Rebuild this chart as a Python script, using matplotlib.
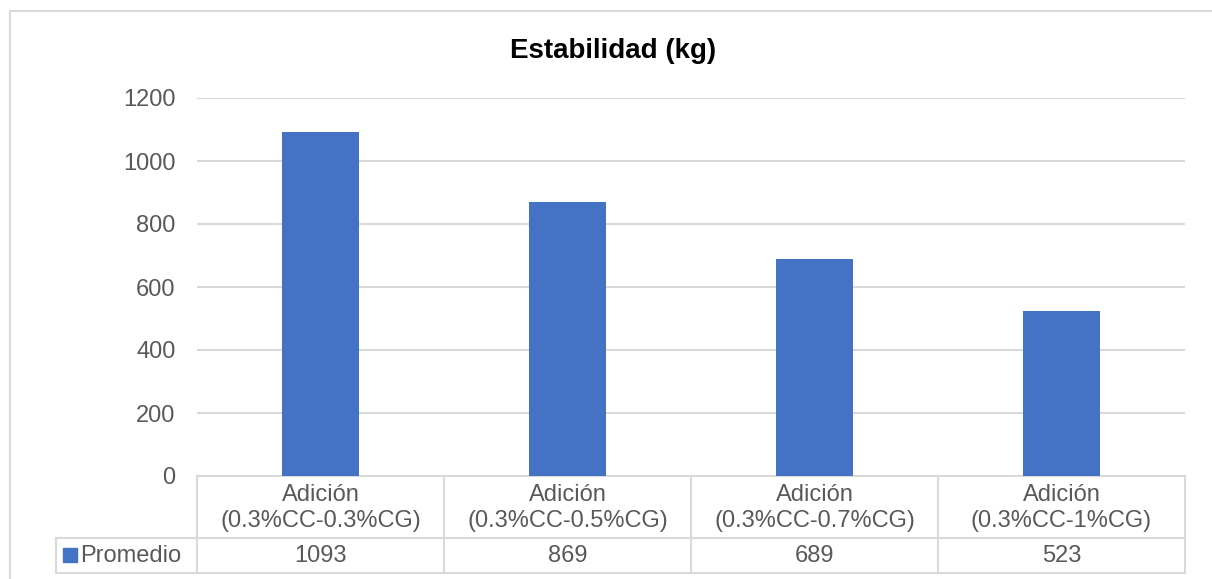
import matplotlib
matplotlib.use("Agg")
import matplotlib.pyplot as plt
from matplotlib.lines import Line2D
from matplotlib.patches import Rectangle

plt.rcParams['font.family'] = ['Liberation Sans', 'DejaVu Sans']

# Data
categories = ["Adición\n(0.3%CC-0.3%CG)", "Adición\n(0.3%CC-0.5%CG)",
              "Adición\n(0.3%CC-0.7%CG)", "Adición\n(0.3%CC-1%CG)"]
promedio = [1093, 869, 689, 523]
series_name = "Promedio"
title = "Estabilidad (kg)"
yticks = [0, 200, 400, 600, 800, 1000, 1200]

W, H = 1212, 579
BAR = "#4472C4"
TXT = "#595959"
GRID = "#D9D9D9"
FS = 17

fig = plt.figure(figsize=(W / 100, H / 100), dpi=100)

def fx(px):
    return px / W

def fy(py):
    return 1 - py / H

# outer chart frame (runs off the right and bottom edges)
fig.add_artist(Rectangle((fx(10), fy(700)), fx(1300), fy(11) - fy(700),
                         transform=fig.transFigure, fill=False,
                         edgecolor=GRID, linewidth=1.5))

ax = fig.add_axes([fx(197), fy(476), fx(1185) - fx(197), fy(98) - fy(476)])
n = len(categories)
x = list(range(n))
ax.bar(x, promedio, width=0.31, color=BAR, zorder=3)
ax.set_xlim(-0.5, n - 0.5)
ax.set_ylim(0, 1200)
ax.set_yticks(yticks)
ax.set_yticklabels([str(t) for t in yticks], fontsize=FS, color=TXT)
ax.tick_params(axis='y', length=0, pad=15.5)
ax.set_xticks([])
ax.grid(axis='y', color=GRID, linewidth=1.5, zorder=0)
for s in ax.spines.values():
    s.set_visible(False)

fig.text(fx(613), fy(51), title, ha='center', va='center',
         fontsize=20, fontweight='bold', color='#000000')

# data table under the axis
px_h = 476 - 98
def ay(py):
    return (476 - py) / px_h

tr = ax.get_xaxis_transform()
row1_top, row_mid, row_bot = ay(476), ay(538), ay(573)
lw = 1.5
cell_w = (1185 - 197) / n
x_leg = -0.5 - (197 - 56) / cell_w
# horizontal lines
ax.add_line(Line2D([-0.5, n - 0.5], [row1_top, row1_top], transform=tr,
                   color=GRID, lw=lw, clip_on=False))
for yy in (row_mid, row_bot):
    ax.add_line(Line2D([x_leg, n - 0.5], [yy, yy], transform=tr,
                       color=GRID, lw=lw, clip_on=False))
# vertical lines
for i in range(n + 1):
    ax.add_line(Line2D([i - 0.5, i - 0.5], [row1_top, row_bot], transform=tr,
                       color=GRID, lw=lw, clip_on=False))
ax.add_line(Line2D([x_leg, x_leg], [row_mid, row_bot], transform=tr,
                   color=GRID, lw=lw, clip_on=False))

for i, (c, v) in enumerate(zip(categories, promedio)):
    ax.text(i, ay(508), c, transform=tr, ha='center',
            va='center', fontsize=FS, color=TXT, linespacing=1.25)
    ax.text(i, (row_mid + row_bot) / 2, str(v), transform=tr, ha='center',
            va='center', fontsize=FS, color=TXT)

# legend key in the table's first column
ax.add_patch(Rectangle((x_leg + (63 - 56) / cell_w, ay(562)),
                       14 / cell_w, ay(548) - ay(562), transform=tr,
                       color=BAR, clip_on=False))
ax.text(x_leg + (80 - 56) / cell_w, (row_mid + row_bot) / 2, series_name,
        transform=tr, ha='left', va='center', fontsize=FS, color=TXT)

fig.savefig("out.png", dpi=100, facecolor='white')
